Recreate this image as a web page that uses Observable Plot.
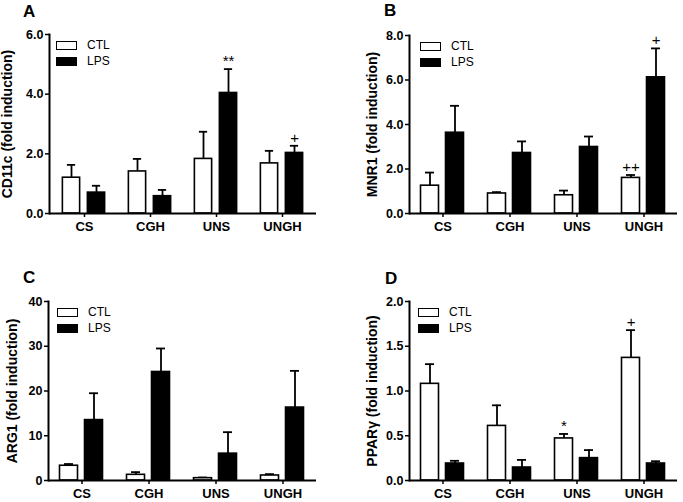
<!DOCTYPE html>
<html><head><meta charset="utf-8">
<script src="https://cdn.jsdelivr.net/npm/d3@7"></script>
<script src="https://cdn.jsdelivr.net/npm/@observablehq/plot@0.6"></script>
<style>
body{margin:0;background:#fff;font-family:"Liberation Sans",Arial,sans-serif;}
#root{position:relative;width:683px;height:502px;overflow:hidden;background:#fff;}
.panel{position:absolute;}
.letter{position:absolute;font-weight:bold;font-size:17px;line-height:17px;color:#000;}
.legend{position:absolute;font-size:12px;color:#000;}
.row{display:flex;align-items:center;height:16px;}
.sw{box-sizing:border-box;width:21px;height:9px;border:1.6px solid #000;margin-right:10px;}
.panel svg g[aria-label="y-axis label"], .panel svg g[aria-label="y-axis label"] text{font-size:14px !important;font-weight:bold !important;}
.panel svg g[aria-label="y-axis tick label"], .panel svg g[aria-label="y-axis tick label"] text{font-size:12.5px !important;font-weight:bold !important;}
.panel svg g[aria-label="x-axis tick label"], .panel svg g[aria-label="x-axis tick label"] text{font-size:13px !important;font-weight:bold !important;}
</style></head><body><div id="root"></div>
<script>
// ---- data ----
const groups = ["CS", "CGH", "UNS", "UNGH"];
const series = ["CTL", "LPS"];

// Panel A: CD11c
const cd11cCtl = [1.20, 1.41, 1.83, 1.68];
const cd11cCtlSem = [0.43, 0.42, 0.91, 0.42];
const cd11cLps = [0.70, 0.58, 4.04, 2.03];
const cd11cLpsSem = [0.23, 0.21, 0.80, 0.24];
const cd11cCtlSig = ["", "", "", ""];
const cd11cLpsSig = ["", "", "**", "+"];
const cd11cTicks = [0, 2, 4, 6];

// Panel B: MNR1
const mnr1Ctl = [1.25, 0.90, 0.82, 1.60];
const mnr1CtlSem = [0.59, 0.06, 0.21, 0.13];
const mnr1Lps = [3.63, 2.72, 2.99, 6.12];
const mnr1LpsSem = [1.21, 0.52, 0.47, 1.30];
const mnr1CtlSig = ["", "", "", "++"];
const mnr1LpsSig = ["", "", "", "+"];
const mnr1Ticks = [0, 2, 4, 6, 8];

// Panel C: ARG1
const arg1Ctl = [3.3, 1.27, 0.52, 1.12];
const arg1CtlSem = [0.38, 0.6, 0.15, 0.3];
const arg1Lps = [13.5, 24.25, 6.0, 16.3];
const arg1LpsSem = [6.0, 5.25, 4.8, 8.2];
const arg1CtlSig = ["", "", "", ""];
const arg1LpsSig = ["", "", "", ""];
const arg1Ticks = [0, 10, 20, 30, 40];

// Panel D: PPARγ
const pparCtl = [1.08, 0.61, 0.47, 1.37];
const pparCtlSem = [0.22, 0.23, 0.05, 0.31];
const pparLps = [0.19, 0.145, 0.25, 0.19];
const pparLpsSem = [0.03, 0.085, 0.09, 0.025];
const pparCtlSig = ["", "", "*", "+"];
const pparLpsSig = ["", "", "", ""];
const pparTicks = [0, 0.5, 1, 1.5, 2];

function rows(vals, sems, sigs) {
  return groups.map((g, i) => ({group: g, value: vals[i], hi: vals[i] + sems[i], sig: sigs[i]}));
}

function panel(cfg) {
  const {ctl, lps, ticks, fmt, label, letter, left, top, width, height, ml, mr, mt, mb, labelOffset, legend} = cfg;
  const bw = (width - ml - mr) / groups.length; // band width (padding 0)
  const half = bw / 2;
  const ctlRows = rows(...ctl), lpsRows = rows(...lps);
  const side = (rs, a, b) => [
    Plot.ruleX(rs, {x: "group", y1: "value", y2: "hi", dx: (a + b) / 2, stroke: "#000", strokeWidth: 1.8}),
    Plot.tickY(rs, {x: "group", y: "hi", insetLeft: half + (a + b) / 2 - 4.5, insetRight: half - (a + b) / 2 - 4.5, stroke: "#000", strokeWidth: 1.8}),
    Plot.barY(rs, {x: "group", y: "value", fill: rs === ctlRows ? "#fff" : "#000", stroke: "#000", strokeWidth: 1.6, insetLeft: half + a, insetRight: half - b}),
    Plot.text(rs, {x: "group", y: "hi", text: "sig", dx: (a + b) / 2, dy: -3, lineAnchor: "bottom", fontSize: 15, fill: "#000"})
  ];
  const chart = Plot.plot({
    width, height,
    marginLeft: ml, marginRight: mr, marginTop: mt, marginBottom: mb,
    style: {fontFamily: "'Liberation Sans', Arial, sans-serif", fontSize: "13px", background: "transparent", color: "#000", overflow: "visible"},
    x: {domain: groups, padding: 0},
    y: {domain: [0, ticks[ticks.length - 1]], nice: false},
    marks: [
      ...side(ctlRows, -22, -4),
      ...side(lpsRows, 3, 21),
      Plot.ruleY([0], {stroke: "#000", strokeWidth: 2}),
      Plot.frame({anchor: "left", stroke: "#000", strokeWidth: 2}),
      Plot.axisX({tickSize: 4, tickPadding: 4, fontSize: 13, fontWeight: "bold", strokeWidth: 1.5, label: null}),
      Plot.axisY({ticks, tickFormat: fmt, tickSize: 4, tickPadding: 2, fontSize: 12.5, fontWeight: "bold", strokeWidth: 1.5,
        label, labelAnchor: "center", labelOffset, labelArrow: false})
    ]
  });
  const wrap = document.createElement("div");
  wrap.className = "panel";
  wrap.style.left = left + "px";
  wrap.style.top = top + "px";
  wrap.appendChild(chart);
  const L = document.createElement("div");
  L.className = "letter";
  L.textContent = letter;
  L.style.left = legend.lx + "px";
  L.style.top = legend.ly + "px";
  wrap.appendChild(L);
  const lg = document.createElement("div");
  lg.className = "legend";
  lg.style.left = legend.x + "px";
  lg.style.top = legend.y + "px";
  series.forEach((s, i) => {
    const r = document.createElement("div");
    r.className = "row";
    const sw = document.createElement("div");
    sw.className = "sw";
    sw.style.background = i === 0 ? "#fff" : "#000";
    r.appendChild(sw);
    r.appendChild(document.createTextNode(s));
    lg.appendChild(r);
  });
  wrap.appendChild(lg);
  document.getElementById("root").appendChild(wrap);
  return chart;
}

const f1 = d3.format(".1f");
panel({ctl: [cd11cCtl, cd11cCtlSem, cd11cCtlSig], lps: [cd11cLps, cd11cLpsSem, cd11cLpsSig], ticks: cd11cTicks, fmt: f1,
  label: "CD11c (fold induction)", letter: "A", left: 0, top: 0, width: 342, height: 251, ml: 49, mr: 26, mt: 34, mb: 38, labelOffset: 47,
  legend: {x: 56, y: 37, lx: 23, ly: 3}});
panel({ctl: [mnr1Ctl, mnr1CtlSem, mnr1CtlSig], lps: [mnr1Lps, mnr1LpsSem, mnr1LpsSig], ticks: mnr1Ticks, fmt: f1,
  label: "MNR1 (fold induction)", letter: "B", left: 342, top: 0, width: 341, height: 251, ml: 67, mr: 6, mt: 35, mb: 38, labelOffset: 42,
  legend: {x: 78, y: 38, lx: 42, ly: 2}});
panel({ctl: [arg1Ctl, arg1CtlSem, arg1CtlSig], lps: [arg1Lps, arg1LpsSem, arg1LpsSig], ticks: arg1Ticks, fmt: d3.format("d"),
  label: "ARG1 (fold induction)", letter: "C", left: 0, top: 251, width: 342, height: 251, ml: 48, mr: 26, mt: 50, mb: 22, labelOffset: 41,
  legend: {x: 57, y: 53, lx: 23, ly: 18}});
panel({ctl: [pparCtl, pparCtlSem, pparCtlSig], lps: [pparLps, pparLpsSem, pparLpsSig], ticks: pparTicks, fmt: f1,
  label: "PPARγ (fold induction)", letter: "D", left: 342, top: 251, width: 341, height: 251, ml: 67, mr: 6, mt: 50, mb: 22, labelOffset: 42,
  legend: {x: 76, y: 53, lx: 43, ly: 19}});
</script></body></html>
